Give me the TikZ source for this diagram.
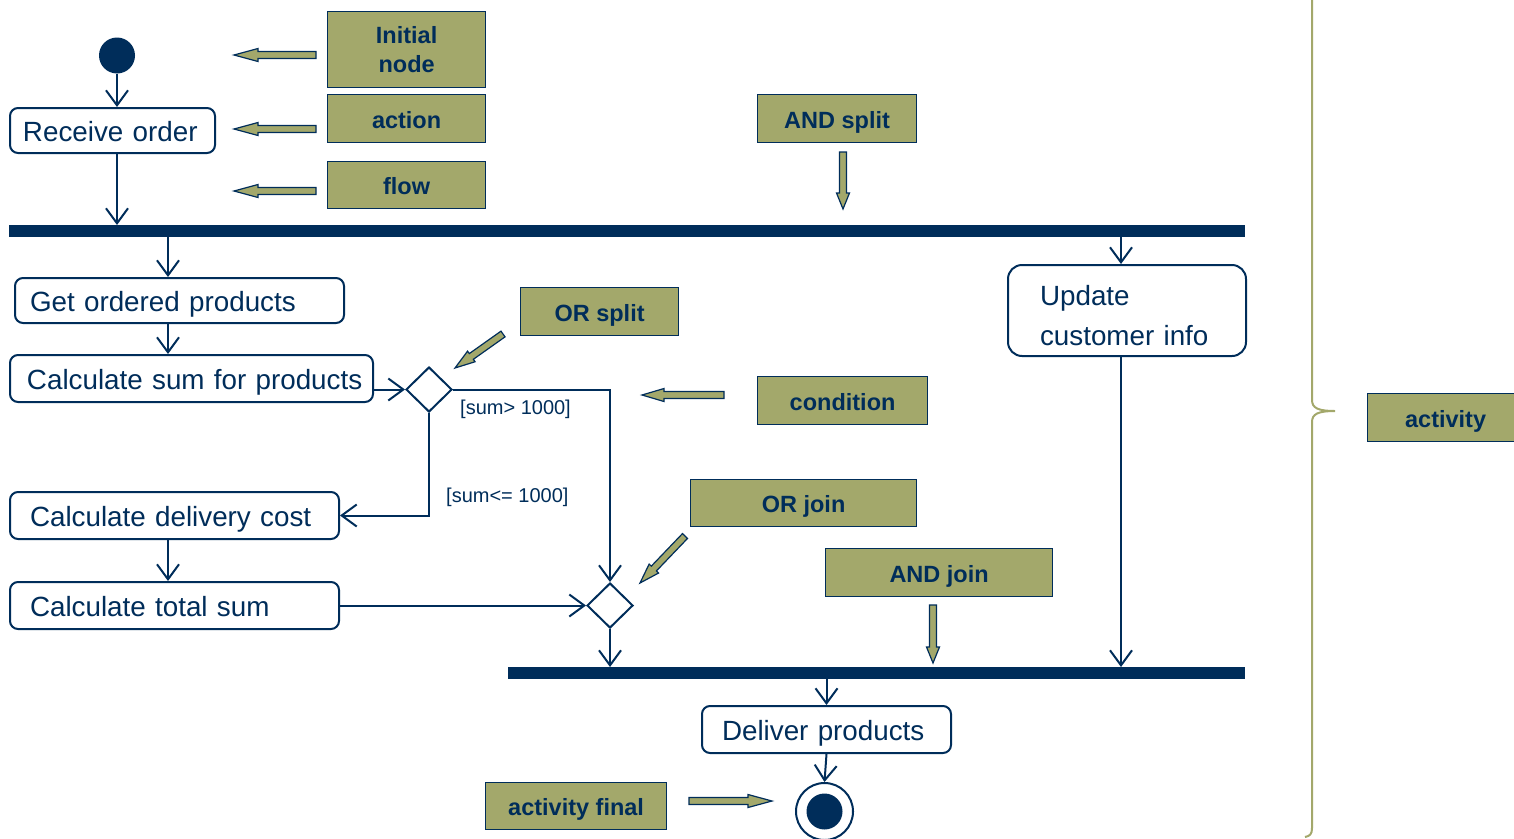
\documentclass[tikz,border=0pt]{standalone}
\usepackage{fontspec}
\setmainfont{Liberation Sans}
\usetikzlibrary{arrows.meta,shapes.geometric,calc}
\definecolor{navy}{HTML}{002D5A}
\definecolor{olive}{HTML}{A3A86B}

% Block arrow from a callout: #1 tail, #2 tip, #3 head length
\newcommand\calloutarrow[3]{%
  \coordinate (hb) at ($(#2)!#3!(#1)$);
  \draw[pointerarrow] ($(#1)!3.5pt!90:(#2)$) -- ($(hb)!3.5pt!90:(#2)$)
    -- ($(hb)!6.5pt!90:(#2)$) -- (#2) -- ($(hb)!6.5pt!-90:(#2)$)
    -- ($(hb)!3.5pt!-90:(#2)$) -- ($(#1)!3.5pt!-90:(#2)$) -- cycle;}

\tikzset{
  flow/.style={draw=navy, line width=2pt,
    -{Straight Barb[length=15pt,width=22pt,line width=2pt]}},
  actbox/.style={draw=navy, line width=2pt, rounded corners=8pt, fill=white,
    text=navy, font=\fontsize{27.8}{40}\selectfont, align=left,
    anchor=north west, inner ysep=0pt, text height=22.5pt, text depth=0pt},
  bar/.style={fill=navy, inner sep=0pt, anchor=north west},
  decision/.style={diamond, draw=navy, line width=2pt, fill=white,
    minimum width=46pt, minimum height=45pt, inner sep=0pt},
  callout/.style={draw=navy, line width=1.2pt, fill=olive, text=navy,
    font=\fontsize{23.5}{29}\selectfont\bfseries, align=center,
    anchor=north west, inner sep=0pt, text height=19.5pt, text depth=0pt},
  guard/.style={text=navy, font=\fontsize{20}{24}\selectfont,
    inner sep=0pt, anchor=west},
  pointerarrow/.style={draw=navy, fill=olive, line width=1.2pt, line join=miter},
}

\begin{document}
\begin{tikzpicture}[x=1pt, y=-1pt]
\useasboundingbox (0,0) rectangle (1514,838);
\clip (0,0) rectangle (1514,838);

% ---- activity nodes ----
\node[circle, fill=navy, minimum size=36pt, inner sep=0pt] (init) at (117,55.5) {};
\node[actbox, minimum height=45pt, inner xsep=13pt, text width=179pt] (recv) at (9,107) {Receive order};
\node[bar, minimum width=1236pt, minimum height=12pt] (fork) at (9,225) {};
\node[actbox, minimum height=45pt, inner xsep=15pt, text width=299pt] (get) at (14,277) {Get ordered products};
\node[actbox, minimum height=47pt, inner xsep=17pt, text width=329pt] (calcsum) at (9,354) {\mbox{Calculate sum for products}};
\node[decision] (dec) at (429,389.5) {};
\node[actbox, minimum height=47pt, inner xsep=20pt, text width=289pt] (deliv) at (9,491) {Calculate delivery cost};
\node[actbox, minimum height=47pt, inner xsep=20pt, text width=289pt] (total) at (9,581) {Calculate total sum};
\node[decision] (merge) at (610,605.5) {};
\node[actbox, rounded corners=14pt, minimum height=91pt, inner xsep=32pt, text width=174pt, text height=25pt, text depth=36pt] (update) at (1007,264) {Update\\customer info};
\node[bar, minimum width=737pt, minimum height=12pt] (join) at (508,667) {};
\node[actbox, minimum height=47pt, inner xsep=20pt, text width=209pt] (deliver) at (701,705) {Deliver products};
\node[circle, draw=navy, line width=2pt, fill=white, minimum size=57pt, inner sep=0pt] (final) at (824.5,811.5) {};
\node[circle, fill=navy, minimum size=36pt, inner sep=0pt] (finaldot) at (final) {};

% guard labels
\node[guard] (gt) at (460,409) {[sum> 1000]};
\node[guard] (ge) at (446,497) {[sum<= 1000]};

% ---- control flows ----
\coordinate (colA) at (168,0);
\coordinate (colB) at (1121,0);
\draw[flow] (init.south) -- (recv.north -| init.south);
\draw[flow] (recv.south -| init.south) -- (fork.north -| init.south);
\draw[flow] (fork.south -| colA) -- (get.north -| colA);
\draw[flow] (get.south -| colA) -- (calcsum.north -| colA);
\draw[flow] (calcsum.east |- dec.west) -- (dec.west);
\draw[flow] (dec.east) -| (merge.north);
\draw[flow] (dec.south) |- (deliv.east);
\draw[flow] (deliv.south -| colA) -- (total.north -| colA);
\draw[flow] (total.east |- merge.west) -- (merge.west);
\draw[flow] (merge.south) -- (join.north -| merge.south);
\draw[flow] (fork.south -| colB) -- (update.north -| colB);
\draw[flow] (update.south -| colB) -- (join.north -| colB);
\draw[flow] (join.south -| deliver.north) -- (deliver.north);
\draw[flow] (deliver.south) -- (final.north);

% ---- callout labels ----
\node[callout, minimum width=158pt, minimum height=76pt, text height=, text depth=] (lInit) at (327,11) {Initial\\node};
\node[callout, minimum width=158pt, minimum height=48pt] (lAction) at (327,94) {action};
\node[callout, minimum width=158pt, minimum height=47pt] (lFlow) at (327,161) {flow};
\node[callout, minimum width=159pt, minimum height=48pt] (lAndSplit) at (757,94) {AND split};
\node[callout, minimum width=158pt, minimum height=48pt] (lOrSplit) at (520,287) {OR split};
\node[callout, minimum width=170pt, minimum height=48pt] (lCond) at (757,376) {condition};
\node[callout, minimum width=226pt, minimum height=47pt] (lOrJoin) at (690,479) {OR join};
\node[callout, minimum width=227pt, minimum height=48pt] (lAndJoin) at (825,548) {AND join};
\node[callout, minimum width=181pt, minimum height=47pt] (lFinal) at (485,782) {activity final};
\node[callout, minimum width=156pt, minimum height=48pt, text width=156pt] (lActivity) at (1367,393) {activity};

% ---- callout pointers ----
\coordinate (a1) at (316,55);   \coordinate (a1t) at (234,55);
\coordinate (a2) at (316,129);  \coordinate (a2t) at (234,129);
\coordinate (a3) at (316,191);  \coordinate (a3t) at (234,191);
\coordinate (a4) at (843,152);  \coordinate (a4t) at (843,209);
\coordinate (a5) at (503,334);  \coordinate (a5t) at (455,368);
\coordinate (a6) at (724,395);  \coordinate (a6t) at (642,395);
\coordinate (a7) at (685,536);  \coordinate (a7t) at (640,583);
\coordinate (a8) at (933,605);  \coordinate (a8t) at (933,663);
\coordinate (a9) at (689,801);  \coordinate (a9t) at (772,801);
\calloutarrow{a1}{a1t}{24pt}
\calloutarrow{a2}{a2t}{24pt}
\calloutarrow{a3}{a3t}{24pt}
\calloutarrow{a4}{a4t}{16pt}
\calloutarrow{a5}{a5t}{20pt}
\calloutarrow{a6}{a6t}{22pt}
\calloutarrow{a7}{a7t}{20pt}
\calloutarrow{a8}{a8t}{16pt}
\calloutarrow{a9}{a9t}{24pt}

% ---- brace spanning the activity ----
\draw[olive, line width=2pt] (1312,-5) -- (1312,400)
  .. controls (1312,408) and (1318,411) .. (1335,411)
  .. controls (1318,411) and (1312,414) .. (1312,422)
  -- (1312,828) .. controls (1312,834) and (1310,836) .. (1305,837);
\end{tikzpicture}
\end{document}
